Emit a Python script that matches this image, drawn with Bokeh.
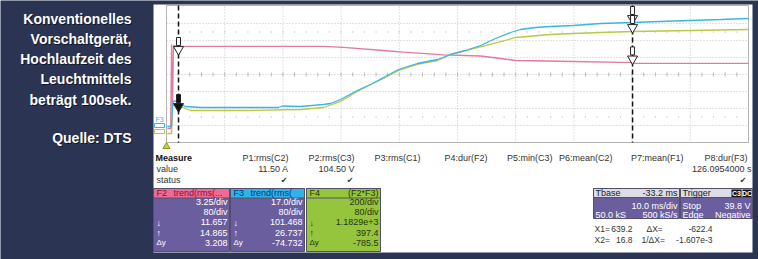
import numpy as np
from bokeh.plotting import figure
from bokeh.models import Range1d, Label
from bokeh.embed import file_html
from bokeh.resources import INLINE

# ---------------- data ----------------
# F2: trend of rms current (A)
f2_time_s = [0.2, 0.9, 1.1, 1.3, 1.5, 2.2, 7.4, 24.7, 34.0, 38.3, 47.0, 51.3, 60.0, 68.0,
             72.3, 75.6, 88.1, 98.3, 100.4, 101.5, 113.4, 126.0]
f2_current_a = [-0.96, -0.96, 15.10, 2.48, 14.91, 14.72, 14.72, 14.72, 14.72, 14.53, 13.95,
                13.63, 13.13, 12.90, 12.42, 12.04, 11.85, 11.66, 11.66, 11.47, 11.47, 11.47]
# F3: trend of rms voltage (V)
f3_time_s = [0.2, 1.1, 1.3, 1.7, 2.6, 4.1, 7.4, 18.2, 24.2, 25.1, 29.0, 34.0, 35.5, 37.7,
             41.3, 44.2, 47.0, 50.2, 54.3, 58.7, 61.5, 64.7, 68.0, 71.2, 74.5, 76.6, 79.9,
             83.1, 88.1, 94.0, 100.9, 106.9, 113.4, 119.9, 126.0]
f3_voltage_v = [-3.0, -3.0, 20.0, 23.0, 20.0, 17.0, 16.0, 16.0, 16.0, 17.5, 17.0, 19.0, 20.0,
                24.0, 33.0, 39.0, 46.0, 54.0, 60.0, 64.0, 69.0, 73.0, 78.0, 85.0, 91.0, 94.0,
                96.0, 97.0, 98.0, 100.0, 101.0, 102.0, 103.0, 104.0, 105.0]
# F4: F2*F3 power (W)
f4_time_s = [0.2, 1.1, 1.3, 1.9, 2.6, 4.1, 5.2, 18.2, 29.0, 34.0, 37.7, 41.3, 44.2, 47.0,
             50.2, 54.3, 58.7, 61.5, 65.8, 70.1, 75.6, 83.1, 88.1, 94.0, 100.9, 113.4, 126.0]
f4_power_w = [-23.0, -23.0, 294.6, 318.2, 306.4, 271.1, 247.6, 247.6, 259.3, 282.9, 353.5,
              471.1, 553.5, 624.0, 718.2, 788.8, 835.8, 906.4, 965.2, 1024.1, 1106.4, 1141.7,
              1153.5, 1165.3, 1177.0, 1188.8, 1200.5]
cursor_time_s = [2.6, 100.9]

# scales (units per division, value at the bottom grid line)
TIME_PER_DIV = 12.6
F2_PER_DIV, F2_BOTTOM = 3.25, -3.64
F3_PER_DIV, F3_BOTTOM = 17.0, -19.0
F4_PER_DIV, F4_BOTTOM = 200.0, -129.0

title_lines = ["Konventionelles", "Vorschaltgerät,", "Hochlaufzeit des", "Leuchtmittels",
               "beträgt 100sek."]
source_line = "Quelle: DTS"
measure_heads = ["P1:rms(C2)", "P2:rms(C3)", "P3:rms(C1)", "P4:dur(F2)", "P5:min(C3)",
                 "P6:mean(C2)", "P7:mean(F1)", "P8:dur(F3)"]
measure_values = ["11.50 A", "104.50 V", "", "", "", "", "", "126.0954000 s"]
measure_ok = [True, True, False, False, False, False, False, True]

# ---------------- layout / style ----------------
W, H = 758, 259
NAVY = "#2b3452"
GX0, DIVX = 166, 58.2
GY_TOP, DIVY = 6, 17.0
GX1 = GX0 + 10 * DIVX
GY_BOT = GY_TOP + 8 * DIVY
PINK, BLUE, GREEN = "#e27b9c", "#3bb5e5", "#b9c941"
FONT = "Liberation Sans"

p = figure(width=W, height=H, x_range=Range1d(0, W), y_range=Range1d(H, 0),
           output_backend="svg", toolbar_location=None, min_border=0,
           x_axis_location=None, y_axis_location=None,
           background_fill_color=NAVY, border_fill_color=NAVY, outline_line_color=None)
p.grid.grid_line_color = None

p.extra_x_ranges = {"t": Range1d(-GX0 / DIVX * TIME_PER_DIV, (W - GX0) / DIVX * TIME_PER_DIV)}


def yrange(bottom, per_div):
    return Range1d(bottom - (H - GY_BOT) / DIVY * per_div, bottom + GY_BOT / DIVY * per_div)


p.extra_y_ranges = {"f2": yrange(F2_BOTTOM, F2_PER_DIV),
                    "f3": yrange(F3_BOTTOM, F3_PER_DIV),
                    "f4": yrange(F4_BOTTOM, F4_PER_DIV)}
PER_DIV = {"f2": F2_PER_DIV, "f3": F3_PER_DIV, "f4": F4_PER_DIV}


def T(x, y, s, size=9, color="#222222", align="left", bold=False, font=FONT, baseline="middle"):
    p.add_layout(Label(x=x, y=y, text=s, text_font_size=f"{size}px", text_color=color,
                       text_align=align, text_baseline=baseline, text_font=font,
                       text_font_style="bold" if bold else "normal"))


def box(x0, x1, y0, y1, fill, line=None):
    p.quad(left=[x0], right=[x1], top=[y0], bottom=[y1], fill_color=fill,
           line_color=line, line_width=1)


def arrow(t, v, rn, fill, tip=True):
    """Cursor marker: down arrow whose tip (or centre) sits on the trace value."""
    u = PER_DIV[rn] / DIVY  # data units per pixel
    base = v if tip else v - 7 * u
    p.rect(x=[t], y=[base + 12 * u], width=4, height=8, width_units="screen",
           height_units="screen", x_range_name="t", y_range_name=rn,
           fill_color=fill, line_color="#222222", line_width=1)
    p.scatter(x=[t], y=[base + 4 * u], marker="inverted_triangle", size=10,
              x_range_name="t", y_range_name=rn, fill_color=fill, line_color="#222222",
              line_width=1)


# white scope screen
box(153, 752, 4, 252, "white")

# grid
vt = [k * TIME_PER_DIV for k in range(1, 10)]
p.segment(x0=vt, y0=[GY_TOP] * 9, x1=vt, y1=[GY_BOT] * 9, x_range_name="t",
          line_color="#c4c4c4", line_dash="1 2", line_width=1)
hy = [GY_TOP + k * DIVY for k in range(1, 8)]
p.segment(x0=[GX0] * 7, y0=hy, x1=[GX1] * 7, y1=hy, line_color="#c4c4c4",
          line_dash="1 2", line_width=1)
# minor ticks on the centre line and sub rows
tx = [GX0 + k * DIVX / 5 for k in range(1, 50)]
cy = GY_TOP + 4 * DIVY
p.segment(x0=tx, y0=[cy - 2] * len(tx), x1=tx, y1=[cy + 2] * len(tx), line_color="#b8b8b8")
for ry in (GY_TOP + 1.5 * DIVY, GY_BOT - 1.5 * DIVY):
    p.segment(x0=tx, y0=[ry - 1] * len(tx), x1=tx, y1=[ry + 1] * len(tx), line_color="#d4d4d4")
p.quad(left=[GX0], right=[GX1], top=[GY_TOP - 1], bottom=[GY_BOT], fill_color=None,
       line_color="#b4b4b4", line_width=1)

# traces
p.line(f2_time_s, f2_current_a, x_range_name="t", y_range_name="f2", line_color=PINK, line_width=1.3)
p.line(f4_time_s, f4_power_w, x_range_name="t", y_range_name="f4", line_color=GREEN, line_width=1.3)
p.line(f3_time_s, f3_voltage_v, x_range_name="t", y_range_name="f3", line_color=BLUE, line_width=1.3)

# cursors
p.segment(x0=cursor_time_s, y0=[GY_TOP - 1] * 2, x1=cursor_time_s, y1=[GY_BOT] * 2,
          x_range_name="t", line_color="#111111", line_dash="5 3", line_width=1.5)
c1, c2 = cursor_time_s
arrow(c1, np.interp(c1, f2_time_s, f2_current_a), "f2", "white", tip=False)
arrow(c1, np.interp(c1, f3_time_s, f3_voltage_v), "f3", "#111111", tip=False)
arrow(c2, np.interp(c2, f3_time_s, f3_voltage_v), "f3", "white")
arrow(c2, np.interp(c2, f4_time_s, f4_power_w), "f4", "white")
arrow(c2, np.interp(c2, f2_time_s, f2_current_a), "f2", "white")

# channel tags at the left of the grid
T(155, 119, "F3", size=7, color=BLUE)
box(154, 164, 123, 127, None, BLUE)
box(154, 164, 129, 133, None, GREEN)
p.scatter(x=[GX0], y=[146], marker="triangle", size=7, fill_color="#c4d23a", line_color="#8a9a20")

# left title
for i, s in enumerate(title_lines + ["", source_line]):
    if s:
        yy = 18 + i * 20.3 if i < 5 else 137
        T(132, yy + 1, s, size=14, color="#10162a", align="right", bold=True)
        T(131, yy, s, size=14, color="white", align="right", bold=True)

# measure table
col_r = [288, 354, 420, 487, 552, 612, 683, 747]
T(155, 157, "Measure", bold=True, color="#111111")
T(156, 168.5, "value", color="#333333")
T(156, 179.5, "status", color="#333333")
for i, h in enumerate(measure_heads):
    T(col_r[i], 157, h, align="right", color="#333333")
    if measure_values[i]:
        T(col_r[i] + (4 if i == 7 else 0), 168.5, measure_values[i], align="right", color="#333333")
    if measure_ok[i]:
        T(col_r[i] - 1, 180, "✔", size=8, align="right", color="#333333", font="DejaVu Sans")

# function boxes
PURPLE = "#6b5e9f"
fboxes = [
    (153, 229, "#ee6a92", "#7a1838", "F2", "trend(rms(...", True,
     ["3.25/div", "80/div", "11.657", "14.865", "3.208"]),
    (230, 304, "#2db5e6", "#10307a", "F3", "trend(rms(", True,
     ["17.0/div", "80/div", "101.468", "26.737", "-74.732"]),
    (306, 380, "#95c53d", "#25350a", "F4", "(F2*F3)", False,
     ["200/div", "80/div", "1.1829e+3", "397.4", "-785.5"]),
]
for x0, x1, hc, htc, tag, name, centred, rows in fboxes:
    body = PURPLE if centred else hc
    box(x0, x1, 188, 251, body, "#55506a")
    box(x0, x1, 188, 197.5, hc, "#55506a")
    tc = "white" if centred else "#25350a"
    T(x0 + 3, 192.5, tag, color=htc)
    if centred:
        T(x0 + 20, 192.5, name, color=htc)
    else:
        T(x1 - 2, 192.5, name, color=htc, align="right")
    for j, r in enumerate(rows):
        T(x1 - 2, 201.5 + 10.2 * j, r, color=tc, align="right")
    T(x0 + 3, 222, "↓", color=tc)
    T(x0 + 3, 232.2, "↑", color=tc)
    T(x0 + 3, 242.4, "Δy", color=tc, size=8)

# timebase / trigger boxes
box(593, 679, 188, 218, PURPLE, "#55506a")
box(593, 679, 188, 197, "#dcdce6", "#55506a")
T(595, 192.5, "Tbase", color="#222222")
T(677, 192.5, "-33.2 ms", color="#222222", align="right")
T(677, 205, "10.0 ms/div", color="white", align="right")
T(595, 214, "50.0 kS", color="white")
T(677, 214, "500 kS/s", color="white", align="right")

box(680, 752, 188, 218, PURPLE, "#55506a")
box(680, 752, 188, 197, "#dcdce6", "#55506a")
T(682, 192.5, "Trigger", color="#222222")
box(731, 741, 189, 196.5, "#111111")
box(742, 751, 189, 196.5, "#111111")
T(736, 192.8, "C3", size=7, color="white", align="center", bold=True)
T(746.5, 192.8, "DC", size=7, color="white", align="center", bold=True)
T(682, 205, "Stop", color="white")
T(750, 205, "39.8 V", color="white", align="right")
T(682, 214, "Edge", color="white")
T(750, 214, "Negative", color="white", align="right")

XS = 8.5
T(594, 228, "X1=", color="#333333", size=XS)
T(632, 228, "639.2", color="#333333", align="right", size=XS)
T(646, 228, "ΔX=", color="#333333", size=XS)
T(712, 228, "-622.4", color="#333333", align="right", size=XS)
T(594, 239, "X2=", color="#333333", size=XS)
T(632, 239, "16.8", color="#333333", align="right", size=XS)
T(641, 239, "1/ΔX=", color="#333333", size=XS)
T(712, 239, "-1.607e-3", color="#333333", align="right", size=XS)

open("out.html", "w").write(file_html(p, INLINE))
